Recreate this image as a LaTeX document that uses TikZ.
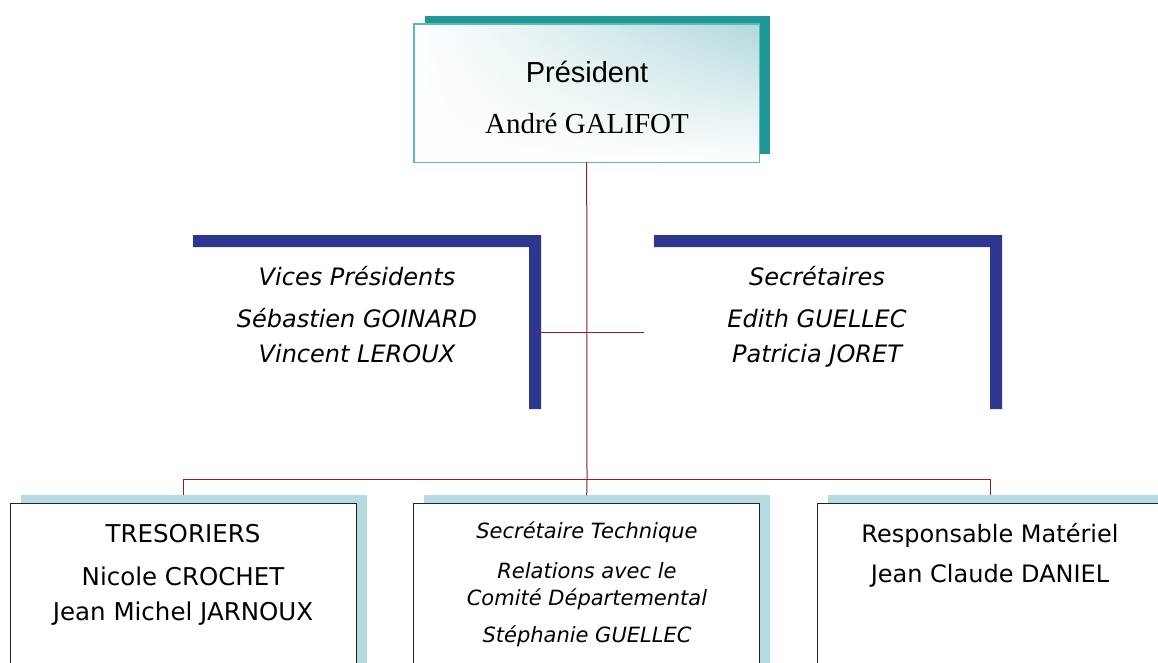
\documentclass[tikz,border=0pt]{standalone}
\usepackage{fontspec}
\setmainfont{DejaVu Sans}
\newfontfamily\arialf{Liberation Sans}
\newfontfamily\timesf{Liberation Serif}
\usetikzlibrary{fadings}
\definecolor{navy}{HTML}{2E3790}
\definecolor{tealdark}{HTML}{1F9897}
\definecolor{tealborder}{HTML}{5CBABA}
\definecolor{tealgrad}{HTML}{B2D9DC}
\definecolor{lightshadow}{HTML}{B4DCE0}
\definecolor{connred}{HTML}{8B1E22}
\definecolor{boxborder}{HTML}{222222}
\tikzset{
  conn/.style={draw=connred, line width=1pt},
  bigtxt/.style={anchor=base, font=\fontsize{24.5}{28}\selectfont},
  ittxt/.style={anchor=base, font=\fontsize{24}{28}\selectfont\itshape},
  smalltxt/.style={anchor=base, font=\fontsize{21}{24}\selectfont\itshape},
  lowbox/.style={draw=boxborder, line width=1.4pt, fill=white, inner sep=0pt,
    minimum width=346pt, minimum height=200pt, anchor=north west},
  lowshadow/.style={fill=lightshadow, inner sep=0pt,
    minimum width=346pt, minimum height=200pt, anchor=north west},
  bracketarea/.style={inner sep=0pt, minimum width=348pt, minimum height=174pt, anchor=north west}
}
\begin{document}
\begin{tikzpicture}[x=1pt,y=-1pt]
\useasboundingbox (0,0) rectangle (1158,662);
\clip (0,0) rectangle (1158,662);

% President
\node[fill=tealdark, inner sep=0pt, minimum width=345pt, minimum height=138pt, anchor=north west] (presS) at (425,16) {};
\node[inner sep=0pt, minimum width=345pt, minimum height=138pt, anchor=north west,
  left color=white, right color=tealgrad] (pres) at (414,24) {};
\fill[white, path fading=north] (pres.south west) rectangle (pres.north east);
\draw[tealborder, line width=1.2pt] (pres.south west) rectangle (pres.north east);
\node[anchor=base, font=\arialf\fontsize{29}{34}\selectfont] (presT) at (587,82) {Président};
\node[anchor=base, font=\timesf\fontsize{29}{34}\selectfont] (presN) at (587,133) {André GALIFOT};

% Brackets
\node[bracketarea] (vp) at (193,235) {};
\fill[navy] (193,235) -| (541,409) -- (529,409) |- (193,247) -- cycle;
\node[bracketarea] (sec) at (654,235) {};
\fill[navy] (654,235) -| (1002,409) -- (990,409) |- (654,247) -- cycle;

\node[ittxt] (vpT) at (357,285) {Vices Présidents};
\node[ittxt] (vp1) at (357,327) {Sébastien GOINARD};
\node[ittxt] (vp2) at (357,362) {Vincent LEROUX};

\node[ittxt] (secT) at (817,285) {Secrétaires};
\node[ittxt] (sec1) at (817,327) {Edith GUELLEC};
\node[ittxt] (sec2) at (817,362) {Patricia JORET};

% Lower boxes
\node[lowshadow] (tresS) at (21,495) {};
\node[lowbox] (tres) at (10,503) {};
\node[lowshadow] (techS) at (424,495) {};
\node[lowbox] (tech) at (413,503) {};
\node[lowshadow] (respS) at (828,495) {};
\node[lowbox] (resp) at (817,503) {};

\node[bigtxt] (tresT) at (183,542) {TRESORIERS};
\node[bigtxt] (tres1) at (183,585) {Nicole CROCHET};
\node[bigtxt] (tres2) at (183,620) {Jean Michel JARNOUX};

\node[smalltxt] (techT) at (587,538) {Secrétaire Technique};
\node[smalltxt] (tech1) at (587,578) {Relations avec le};
\node[smalltxt] (tech2) at (587,605) {Comité Départemental};
\node[smalltxt] (tech3) at (587,642) {Stéphanie GUELLEC};

\node[bigtxt, font=\fontsize{24}{28}\selectfont] (respT) at (990,542) {Responsable Matériel};
\node[bigtxt, font=\fontsize{24}{28}\selectfont] (resp1) at (990,582) {Jean Claude DANIEL};

% Connectors
\coordinate (bus) at (587,479);
\coordinate (crossL) at (541,332);
\coordinate (crossR) at (644,332);
\draw[conn] (pres.south) -- (bus);
\draw[conn] (crossL) -- (crossR);
\draw[conn] (tres.north |- bus) -- (resp.north |- bus);
\draw[conn] (tres.north |- bus) -- (tres.north |- tresS.north);
\draw[conn] (bus) -- (tech.north |- techS.north);
\draw[conn] (resp.north |- bus) -- (resp.north |- respS.north);
\end{tikzpicture}
\end{document}
